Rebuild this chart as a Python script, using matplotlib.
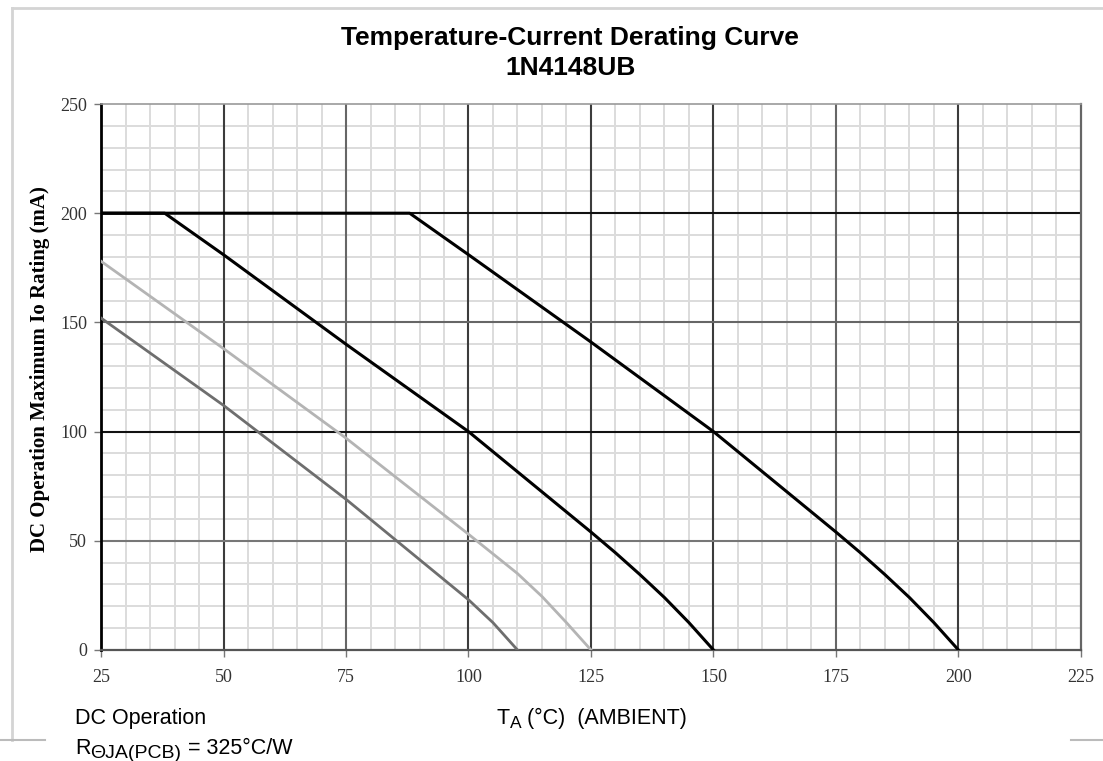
import matplotlib
matplotlib.use("Agg")
import matplotlib.pyplot as plt
from matplotlib.lines import Line2D
import numpy as np

# derating curves (temperature in C, current in mA)
temp_a = [25, 88, 100, 125, 150, 175, 180, 185, 190, 195, 200]
io_a = [200, 200, 181, 141, 100, 54, 44.5, 34.5, 24, 12.5, 0]
temp_b = [25, 38, 50, 75, 100, 125, 130, 135, 140, 145, 150]
io_b = [200, 200, 181, 140, 100, 54, 44.5, 34.5, 24, 12.5, 0]
temp_c = [25, 50, 75, 100, 105, 110, 115, 120, 125]
io_c = [178, 138, 97, 53, 44, 35, 24.5, 12.5, 0]
temp_d = [25, 50, 75, 100, 105, 110]
io_d = [152, 112, 69, 23, 12.5, 0]

x_ticks = [25, 50, 75, 100, 125, 150, 175, 200, 225]
y_ticks = [0, 50, 100, 150, 200, 250]

fig = plt.figure(figsize=(11.03, 7.61), dpi=100)
ax = fig.add_axes([0.0916, 0.1459, 0.8884, 0.7174])

ax.set_xlim(25, 225)
ax.set_ylim(0, 250)
ax.set_xticks(x_ticks)
ax.set_yticks(y_ticks)
ax.set_xticks(np.arange(25, 226, 5), minor=True)
ax.set_yticks(np.arange(0, 251, 10), minor=True)

# light minor grid, heavier major lines on top of it
ax.grid(which='minor', color='#dcdcdc', lw=1.4, zorder=0)
xgrid_col = {75: '#666666', 175: '#666666'}
for v in x_ticks[1:-1]:
    ax.axvline(v, color=xgrid_col.get(v, '#3c3c3c'), lw=1.5, zorder=1)
ygrid_col = {50: '#777777', 100: '#111111', 150: '#666666', 200: '#111111'}
for v in y_ticks[1:-1]:
    ax.axhline(v, color=ygrid_col[v], lw=1.5, zorder=1)
ax.set_axisbelow(True)

ax.plot(temp_d, io_d, color='#6e6e6e', lw=2.0, zorder=3)
ax.plot(temp_c, io_c, color='#b4b4b4', lw=2.0, zorder=3)
ax.plot(temp_b, io_b, color='black', lw=2.2, zorder=3)
ax.plot(temp_a, io_a, color='black', lw=2.2, zorder=3)

for side, col, w in [('left', 'black', 2.0), ('bottom', '#555555', 1.6),
                     ('right', '#666666', 1.6), ('top', '#999999', 1.2)]:
    ax.spines[side].set_color(col)
    ax.spines[side].set_linewidth(w)

ax.tick_params(which='minor', length=0)
ax.tick_params(which='major', length=5, width=1, color='#777777', labelsize=13)
ax.tick_params(axis='y', pad=5)
ax.tick_params(axis='x', pad=9)
for lab in ax.get_xticklabels() + ax.get_yticklabels():
    lab.set_family('Liberation Serif')
    lab.set_color('#333333')

ax.set_ylabel('DC Operation Maximum Io Rating (mA)', family='Liberation Serif',
              fontweight='bold', fontsize=15)
ax.yaxis.set_label_coords(-0.052, 0.515)

fig.text(0.517, 0.950, 'Temperature-Current Derating Curve', ha='center', va='center',
         family='Liberation Sans', fontweight='bold', fontsize=19)
fig.text(0.517, 0.910, '1N4148UB', ha='center', va='center',
         family='Liberation Sans', fontweight='bold', fontsize=19)

fs = 15.5
fig.text(0.068, 0.0565, 'DC Operation', ha='left', va='center',
         family='Liberation Sans', fontsize=fs)
t_a = fig.text(0.450, 0.0565, 'T', ha='left', va='center', family='Liberation Sans', fontsize=fs)
r_t = fig.text(0.068, 0.017, 'R', ha='left', va='center', family='Liberation Sans', fontsize=fs)

# place subscripts and trailing text right after the main letters
fig.canvas.draw()
rend = fig.canvas.get_renderer()


def after(txt, s, dy, size):
    bb = txt.get_window_extent(rend)
    x0, y0 = fig.transFigure.inverted().transform((bb.x1, (bb.y0 + bb.y1) / 2))
    return fig.text(x0, y0 + dy, s, ha='left', va='center',
                    family='Liberation Sans', fontsize=size)


sub_a = after(t_a, 'A', -0.007, 12.5)
after(sub_a, ' (°C)  (AMBIENT)', 0.007, fs)
sub_r = after(r_t, 'ΘJA(PCB)', -0.007, 14)
after(sub_r, ' = 325°C/W', 0.007, fs)

# page-crop border lines
fig.add_artist(Line2D([0.011, 1.0], [0.990, 0.990], color='#d4d4d4', lw=2))
fig.add_artist(Line2D([0.011, 0.011], [0.990, 0.027], color='#d4d4d4', lw=2))
fig.add_artist(Line2D([0.0, 0.041], [0.027, 0.027], color='#bbbbbb', lw=1.5))
fig.add_artist(Line2D([0.971, 1.0], [0.027, 0.027], color='#bbbbbb', lw=1.5))

fig.savefig('out.png', dpi=100)
